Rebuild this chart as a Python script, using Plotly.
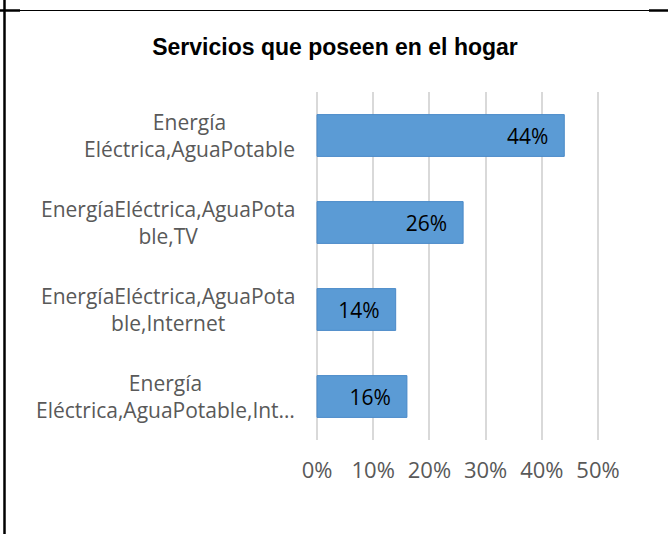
import plotly.graph_objects as go

title = "Servicios que poseen en el hogar"
categories = [
    "Energía<br>Eléctrica,AguaPotable",
    "EnergíaEléctrica,AguaPota<br>ble,TV",
    "EnergíaEléctrica,AguaPota<br>ble,Internet",
    "Energía<br>Eléctrica,AguaPotable,Int…",
]
values = [0.44, 0.26, 0.14, 0.16]
tick_vals = [0, 0.1, 0.2, 0.3, 0.4, 0.5]
tick_text = ["0%", "10%", "20%", "30%", "40%", "50%"]

W, H = 668, 534
L, R, T, B = 315, 68, 92, 94
pw, ph = W - L - R, H - T - B
EXT = 2 / 562  # 2 px of padding so the edge grid lines are drawn

def px_x(px):
    return (px - L) / pw

def px_y(py):
    return (H - B - py) / ph

FONT = "Open Sans"
GRAY = "#595959"
PAD = "\u00a0\u00a0\u200a"

fig = go.Figure()
fig.add_trace(go.Bar(
    x=values, y=categories, orientation="h",
    marker=dict(color="#5B9BD5", line=dict(color="#4A89C8", width=1)),
    text=[f"{v:.0%}{PAD}" for v in values],
    textposition="inside", insidetextanchor="end",
    textfont=dict(family=FONT, size=21, color="black"),
    width=0.48,
    showlegend=False,
    hoverinfo="skip",
))

annotations = []
for c in categories:
    annotations.append(dict(
        x=px_x(297), xref="paper", y=c, yref="y",
        text=c, showarrow=False, xanchor="right", yanchor="middle",
        align="center",
        font=dict(family=FONT, size=21, color=GRAY),
    ))

shapes = [
    dict(type="line", xref="paper", yref="paper",
         x0=px_x(0), x1=px_x(668), y0=px_y(10.5), y1=px_y(10.5),
         line=dict(color="black", width=1.2)),
    dict(type="line", xref="paper", yref="paper",
         x0=px_x(649), x1=px_x(668), y0=px_y(10.5), y1=px_y(10.5),
         line=dict(color="black", width=2.5)),
    dict(type="line", xref="paper", yref="paper",
         x0=px_x(0), x1=px_x(20), y0=px_y(10.5), y1=px_y(10.5),
         line=dict(color="black", width=2.5)),
    dict(type="line", xref="paper", yref="paper",
         x0=px_x(4.5), x1=px_x(4.5), y0=px_y(0), y1=px_y(534),
         line=dict(color="black", width=2.5)),
]

fig.update_layout(
    width=W, height=H,
    margin=dict(l=L, r=R, t=T, b=B),
    paper_bgcolor="white", plot_bgcolor="white",
    title=dict(text=f"<b>{title}</b>", x=335 / W, xanchor="center",
               y=1 - 47 / H, yanchor="middle",
               font=dict(family="Liberation Sans", size=23, color="black")),
    xaxis=dict(range=[-EXT, 0.5 + EXT], tickvals=tick_vals, ticktext=tick_text,
               showgrid=True, gridcolor="#D9D9D9", gridwidth=1.5,
               zeroline=False, showline=False, ticks="",
               tickfont=dict(family=FONT, size=22, color=GRAY),
               ticklabelstandoff=15, fixedrange=True),
    yaxis=dict(autorange="reversed", showticklabels=False, showgrid=False,
               zeroline=False, showline=False, ticks="", fixedrange=True),
    annotations=annotations,
    shapes=shapes,
    bargap=0.52,
)

fig.write_html("out.html", config={"displayModeBar": False},
               post_script="document.body.style.margin='0';")
